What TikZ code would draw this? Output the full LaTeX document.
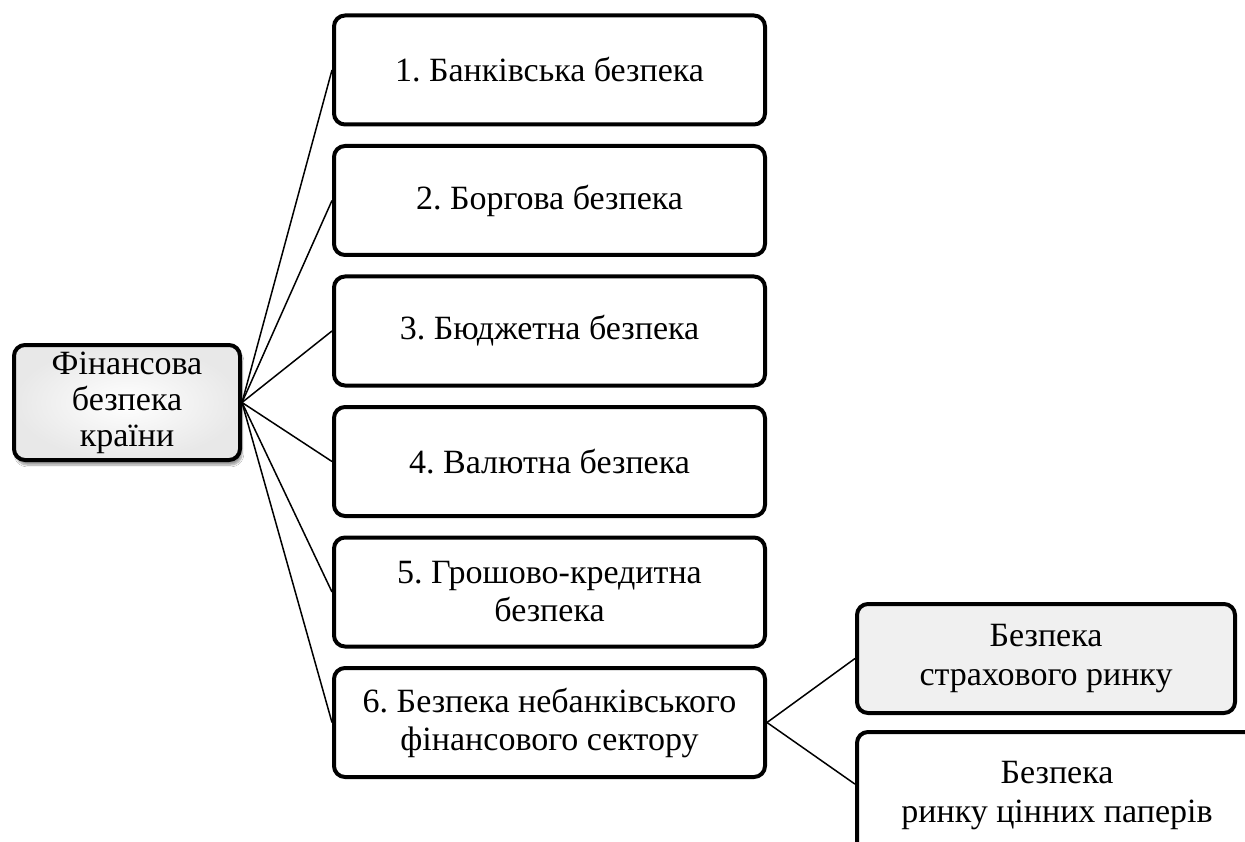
\documentclass[tikz,border=0pt]{standalone}
\usepackage{fontspec}
\setmainfont{Liberation Serif}
\usetikzlibrary{calc,shadows.blur}
\begin{document}
\frenchspacing
\begin{tikzpicture}[x=1pt,y=-1pt,
  txt/.style={font=\fontsize{34}{38}\selectfont, align=center, text=black},
  mainbox/.style={txt, draw=black, line width=4pt, rounded corners=11pt, fill=white,
    minimum width=431pt, minimum height=109pt, inner sep=0pt},
  rootbox/.style={txt, draw=black, line width=4pt, rounded corners=11pt,
    inner color=white, outer color=black!9,
    minimum width=226pt, minimum height=115pt, inner sep=0pt,
    font=\fontsize{34}{36}\selectfont,
    blur shadow={shadow xshift=2pt, shadow yshift=-5pt, shadow blur steps=8, shadow opacity=40}},
  subbox/.style={txt, draw=black, line width=4pt, rounded corners=11pt,
    inner sep=0pt, font=\fontsize{34}{39}\selectfont},
  link/.style={draw=black, line width=1.5pt}
]
\useasboundingbox (0,0) rectangle (1245,842);
\fill[white] (0,0) rectangle (1245,842);

\node[rootbox] (root) at (127,402.5) {Фінансова\\безпека\\країни};

\node[mainbox] (b1) at (549.5,70)    {1. Банківська безпека};
\node[mainbox] (b2) at (549.5,200.5) {2. Боргова безпека};
\node[mainbox] (b3) at (549.5,331)   {3. Бюджетна безпека};
\node[mainbox] (b4) at (549.5,461.5) {4. Валютна безпека};
\node[mainbox] (b5) at (549.5,592)   {5. Грошово-кредитна\\безпека};
\node[mainbox] (b6) at (549.5,722.5) {6. Безпека небанківського\\фінансового сектору};

\node[subbox, fill=black!6, minimum width=378pt, minimum height=109pt] (sa) at (1046,658.5)
  {Безпека\\страхового ринку};
\node[subbox, fill=white, minimum width=400pt, minimum height=128pt] (sb) at (1057,796)
  {Безпека\\ринку цінних паперів};

\foreach \b in {b1,b2,b3,b4,b5,b6}
  \draw[link] (root.east) -- (\b.west);

\draw[link] (b6.east) -- (sa.west);
\coordinate (sbin) at ($(sb.north west)!0.41!(sb.south west)$);
\draw[link] (b6.east) -- (sbin);
\end{tikzpicture}
\end{document}
